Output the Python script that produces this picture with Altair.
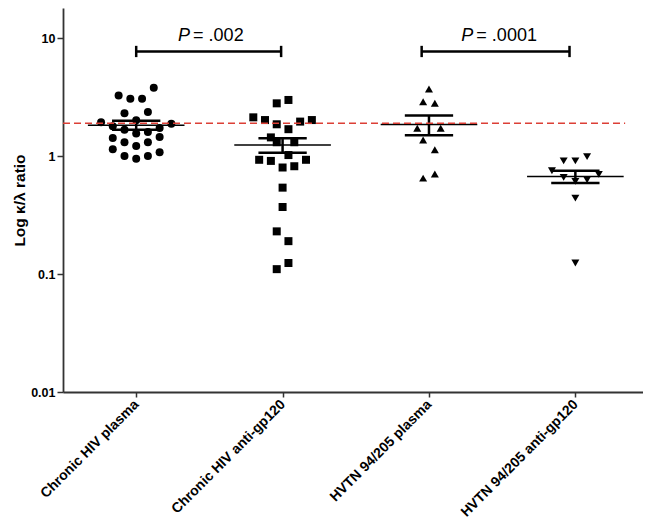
import json
import altair as alt
import pandas as pd

FONT = "Liberation Sans, Arial, sans-serif"

groups = ["Chronic HIV plasma", "Chronic HIV anti-gp120",
          "HVTN 94/205 plasma", "HVTN 94/205 anti-gp120"]
shapes = ["circle", "square", "triangle-up", "triangle-down"]

# kappa/lambda ratios, with the column-scatter slot of each dot
g1_vals = [3.8, 3.27, 3.06, 3.06, 2.31, 2.36, 1.94, 2.01, 1.88, 1.79, 1.67, 1.73,
           1.60, 1.55, 1.42, 1.45, 1.31, 1.31, 1.22, 1.14, 1.08, 1.0, 1.0, 0.95]
g1_slot = [3, -3, -1, 1, -2, 2, -6, 0, 6, -4, -2, 4, 2, 0, -4, 4, -2, 2, 0, -4, 4, -2, 2, 0]

g2_vals = [2.80, 2.99, 2.13, 2.02, 1.86, 1.96, 2.02, 1.69, 1.44, 1.31, 1.31, 1.02,
           0.93, 0.91, 0.93, 0.80, 0.82, 0.54, 0.37, 0.23, 0.19, 0.124, 0.11]
g2_slot = [-1, 1, -5, -3, -1, 3, 5, 1, -2, -1, 2, 1, -4, -2, 4, 0, 2, 0, 0, -1, 1, 1, -1]

g3_vals = [3.70, 2.89, 2.80, 1.72, 1.72, 1.37, 1.13, 0.65, 0.705]
g3_slot = [0, -1, 1, -2, 2, -1, 1, -1, 1]

g4_vals = [0.91, 0.91, 0.99, 0.75, 0.66, 0.61, 0.63, 0.70, 0.44, 0.124]
g4_slot = [-2, 0, 2, -4, -2, 0, 2, 4, 0, 0]

reference_ratio = 1.9

# significance brackets
br_x1 = [1.0, 2.95]
br_x2 = [1.99, 3.96]
br_label = ["= .002", "= .0001"]
br_text_x = [1.375, 3.31]

SLOT = 0.04

rows = []
for gi, (vals, slots) in enumerate([(g1_vals, g1_slot), (g2_vals, g2_slot),
                                    (g3_vals, g3_slot), (g4_vals, g4_slot)], start=1):
    for v, s in zip(vals, slots):
        rows.append({"group": groups[gi - 1], "gi": gi, "xpos": gi + s * SLOT, "value": v})
pts = pd.DataFrame(rows)

ann = pd.DataFrame({"x1": br_x1, "x2": br_x2, "label": br_label, "tx": br_text_x,
                    "ybar": [7.7, 7.7], "ytop": [8.6, 8.6], "ybot": [6.9, 6.9],
                    "ytext": [9.45, 9.45]})

xs = alt.Scale(domain=[0.5, 4.462], nice=False, zero=False)
ys = alt.Scale(type="log", domain=[0.01, 18], nice=False)

label_expr = json.dumps(groups) + "[datum.value - 1]"
x_axis = alt.Axis(values=[1, 2, 3, 4], labelExpr=label_expr, labelAngle=-45,
                  labelAlign="right", labelBaseline="middle", labelFont=FONT,
                  labelFontSize=14, labelFontWeight="bold", labelColor="black",
                  labelPadding=5, tickSize=5, tickWidth=1.5, tickColor="#333",
                  domainColor="#333", domainWidth=1.8, grid=False, title=None,
                  labelOverlap=False, labelBound=False)
y_axis = alt.Axis(values=[0.01, 0.1, 1, 10], format="~g", labelFont=FONT,
                  labelFontSize=12.5, labelFontWeight="bold", labelColor="black",
                  labelPadding=2, tickSize=6, tickWidth=1.5, tickColor="#333",
                  domainColor="#333", domainWidth=1.8, grid=False,
                  title="Log κ/λ ratio", titleFont=FONT, titleFontSize=15.5,
                  titleFontWeight="bold", titleColor="black", titlePadding=3)

base = alt.Chart(pts)

points = base.mark_point(filled=True, size=64, opacity=1, color="black").encode(
    x=alt.X("xpos:Q", scale=xs, axis=x_axis),
    y=alt.Y("value:Q", scale=ys, axis=y_axis),
    shape=alt.Shape("group:N", scale=alt.Scale(domain=groups, range=shapes), legend=None),
)

stats = base.transform_aggregate(
    mean="mean(value)", sem="stderr(value)", groupby=["gi"]
).transform_calculate(
    xl="datum.gi - 0.33", xr="datum.gi + 0.33",
    cl="datum.gi - 0.165", cr="datum.gi + 0.165",
    lo="datum.mean - datum.sem", hi="datum.mean + datum.sem",
)

mean_line = stats.mark_rule(color="black", strokeWidth=1.5).encode(
    x=alt.X("xl:Q", scale=xs, axis=x_axis), x2="xr:Q",
    y=alt.Y("mean:Q", scale=ys, axis=y_axis))
cap_hi = stats.mark_rule(color="black", strokeWidth=2.5).encode(
    x=alt.X("cl:Q", scale=xs, axis=x_axis), x2="cr:Q",
    y=alt.Y("hi:Q", scale=ys, axis=y_axis))
cap_lo = stats.mark_rule(color="black", strokeWidth=2.5).encode(
    x=alt.X("cl:Q", scale=xs, axis=x_axis), x2="cr:Q",
    y=alt.Y("lo:Q", scale=ys, axis=y_axis))
sem_v = stats.mark_rule(color="black", strokeWidth=2.5).encode(
    x=alt.X("gi:Q", scale=xs, axis=x_axis),
    y=alt.Y("lo:Q", scale=ys, axis=y_axis), y2="hi:Q")

ref = alt.Chart(pd.DataFrame({"r": [reference_ratio]})).mark_rule(
    color="#dc3f36", strokeDash=[7, 4], strokeWidth=1.6).encode(
    x=alt.datum(0.5, scale=xs, axis=x_axis), x2=alt.datum(4.34),
    y=alt.Y("r:Q", scale=ys, axis=y_axis))

abase = alt.Chart(ann)
br_h = abase.mark_rule(color="black", strokeWidth=2.5).encode(
    x=alt.X("x1:Q", scale=xs, axis=x_axis), x2="x2:Q",
    y=alt.Y("ybar:Q", scale=ys, axis=y_axis))
br_l = abase.mark_rule(color="black", strokeWidth=2.5).encode(
    x=alt.X("x1:Q", scale=xs, axis=x_axis),
    y=alt.Y("ytop:Q", scale=ys, axis=y_axis), y2="ybot:Q")
br_r = abase.mark_rule(color="black", strokeWidth=2.5).encode(
    x=alt.X("x2:Q", scale=xs, axis=x_axis),
    y=alt.Y("ytop:Q", scale=ys, axis=y_axis), y2="ybot:Q")
p_txt = abase.mark_text(text="P", font=FONT, fontSize=18, fontStyle="italic",
                        align="right", baseline="alphabetic", dx=-1, color="black").encode(
    x=alt.X("tx:Q", scale=xs, axis=x_axis),
    y=alt.Y("ytext:Q", scale=ys, axis=y_axis))
v_txt = abase.mark_text(font=FONT, fontSize=18, align="left", baseline="alphabetic",
                        dx=2, color="black").encode(
    x=alt.X("tx:Q", scale=xs, axis=x_axis),
    y=alt.Y("ytext:Q", scale=ys, axis=y_axis),
    text="label:N")

chart = alt.layer(points, mean_line, cap_hi, cap_lo, sem_v, ref,
                  br_h, br_l, br_r, p_txt, v_txt).properties(
    width=580, height=384,
    padding={"left": 55, "top": 0, "right": 0, "bottom": 132},
    autosize=alt.AutoSizeParams(type="none"),
    background="white",
).configure_view(strokeWidth=0)

chart.save("out.html", embed_options={"renderer": "svg", "actions": False})
